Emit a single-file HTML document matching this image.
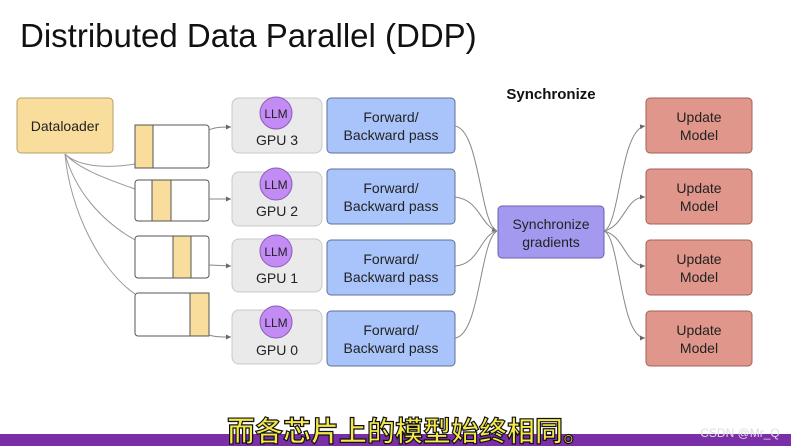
<!DOCTYPE html>
<html><head><meta charset="utf-8"><style>
body{margin:0;background:#fff;}
svg{display:block;font-family:"Liberation Sans","Noto Sans CJK SC",sans-serif;}
</style></head><body>
<svg width="791" height="446" viewBox="0 0 791 446" xmlns="http://www.w3.org/2000/svg">
<defs><marker id="a" markerWidth="6" markerHeight="6" refX="5" refY="3" orient="auto"><path d="M0,0.5 L5,3 L0,5.5z" fill="#666"/></marker></defs>
<text x="20" y="47" font-size="33" fill="#111">Distributed Data Parallel (DDP)</text>
<text x="551" y="99" font-size="15" font-weight="bold" fill="#111" text-anchor="middle">Synchronize</text>
<rect x="17" y="98" width="96" height="55" rx="4" fill="#f8dd9c" stroke="#b9a068"/>
<text x="65" y="131" font-size="14" text-anchor="middle" fill="#222">Dataloader</text>
<g fill="none" stroke="#999" stroke-width="1">
<path d="M65,154 C80,168 110,168 135,164"/>
<path d="M65,154 C80,170 110,180 135,189"/>
<path d="M65,154 C75,190 100,220 135,240"/>
<path d="M65,154 C70,210 100,270 135,294"/>
</g>
<g stroke="#555" stroke-width="1">
<rect x="135" y="125" width="74" height="43" rx="3" fill="#fff"/><rect x="135" y="125" width="18" height="43" fill="#f8dd9c"/>
<rect x="135" y="180" width="74" height="41" rx="3" fill="#fff"/><rect x="152" y="180" width="19" height="41" fill="#f8dd9c"/>
<rect x="135" y="236" width="74" height="42" rx="3" fill="#fff"/><rect x="173" y="236" width="18" height="42" fill="#f8dd9c"/>
<rect x="135" y="293" width="74" height="43" rx="3" fill="#fff"/><rect x="190" y="293" width="19" height="43" fill="#f8dd9c"/>
</g>
<g fill="none" stroke="#888" marker-end="url(#a)">
<path d="M209,130 C215,127 222,127 231,127"/>
<path d="M209,199 L231,199"/>
<path d="M209,265 L231,266"/>
<path d="M209,335 C215,337 222,337 231,337"/>
</g>
<g font-size="14" text-anchor="middle">
<rect x="232" y="98" width="90" height="55" rx="7" fill="#eaeaea" stroke="#c8c8c8"/>
<circle cx="276" cy="113" r="16" fill="#c28cf4" stroke="#8a5ab8"/><text x="276" y="118" font-size="12" fill="#222">LLM</text><text x="277" y="145" fill="#222">GPU 3</text>
<rect x="232" y="172" width="90" height="54" rx="7" fill="#eaeaea" stroke="#c8c8c8"/>
<circle cx="276" cy="184" r="16" fill="#c28cf4" stroke="#8a5ab8"/><text x="276" y="189" font-size="12" fill="#222">LLM</text><text x="277" y="216" fill="#222">GPU 2</text>
<rect x="232" y="239" width="90" height="53" rx="7" fill="#eaeaea" stroke="#c8c8c8"/>
<circle cx="276" cy="251" r="16" fill="#c28cf4" stroke="#8a5ab8"/><text x="276" y="256" font-size="12" fill="#222">LLM</text><text x="277" y="283" fill="#222">GPU 1</text>
<rect x="232" y="310" width="90" height="54" rx="7" fill="#eaeaea" stroke="#c8c8c8"/>
<circle cx="276" cy="322" r="16" fill="#c28cf4" stroke="#8a5ab8"/><text x="276" y="327" font-size="12" fill="#222">LLM</text><text x="277" y="355" fill="#222">GPU 0</text>
<g fill="#a9c4fb" stroke="#5f6f96">
<rect x="327" y="98" width="128" height="55" rx="4"/><rect x="327" y="169" width="128" height="55" rx="4"/>
<rect x="327" y="240" width="128" height="55" rx="4"/><rect x="327" y="311" width="128" height="55" rx="4"/>
</g>
<g fill="#222">
<text x="391" y="122">Forward/</text><text x="391" y="140">Backward pass</text>
<text x="391" y="193">Forward/</text><text x="391" y="211">Backward pass</text>
<text x="391" y="264">Forward/</text><text x="391" y="282">Backward pass</text>
<text x="391" y="335">Forward/</text><text x="391" y="353">Backward pass</text>
</g>
<g fill="none" stroke="#888">
<path d="M455,126 C480,130 480,225 497,231" marker-end="url(#a)"/>
<path d="M455,197 C480,200 480,225 497,231"/>
<path d="M455,266 C480,264 480,235 497,231"/>
<path d="M455,338 C480,335 480,240 497,231"/>
<path d="M604,231 C620,226 620,130 645,126" marker-end="url(#a)"/>
<path d="M604,231 C625,226 625,197 645,197" marker-end="url(#a)"/>
<path d="M604,231 C625,236 625,266 645,266" marker-end="url(#a)"/>
<path d="M604,231 C620,236 620,338 645,338" marker-end="url(#a)"/>
</g>
<rect x="498" y="206" width="106" height="52" rx="4" fill="#a39af0" stroke="#6a62a8"/>
<text x="551" y="229" fill="#222">Synchronize</text><text x="551" y="247" fill="#222">gradients</text>
<g fill="#e0968a" stroke="#a06258">
<rect x="646" y="98" width="106" height="55" rx="4"/><rect x="646" y="169" width="106" height="55" rx="4"/>
<rect x="646" y="240" width="106" height="55" rx="4"/><rect x="646" y="311" width="106" height="55" rx="4"/>
</g>
<g fill="#222">
<text x="699" y="122">Update</text><text x="699" y="140">Model</text>
<text x="699" y="193">Update</text><text x="699" y="211">Model</text>
<text x="699" y="264">Update</text><text x="699" y="282">Model</text>
<text x="699" y="335">Update</text><text x="699" y="353">Model</text>
</g>
</g>
<rect x="0" y="434" width="791" height="12" fill="#7a2fa8"/>
<text x="409" y="441" font-size="28" font-weight="bold" text-anchor="middle" fill="#f5e94a" stroke="#111" stroke-width="1.2">而各芯片上的模型始终相同。</text>
<text x="740" y="437" font-size="12" text-anchor="middle" fill="#ddd">CSDN @Mr_Q</text>
</svg>
</body></html>
